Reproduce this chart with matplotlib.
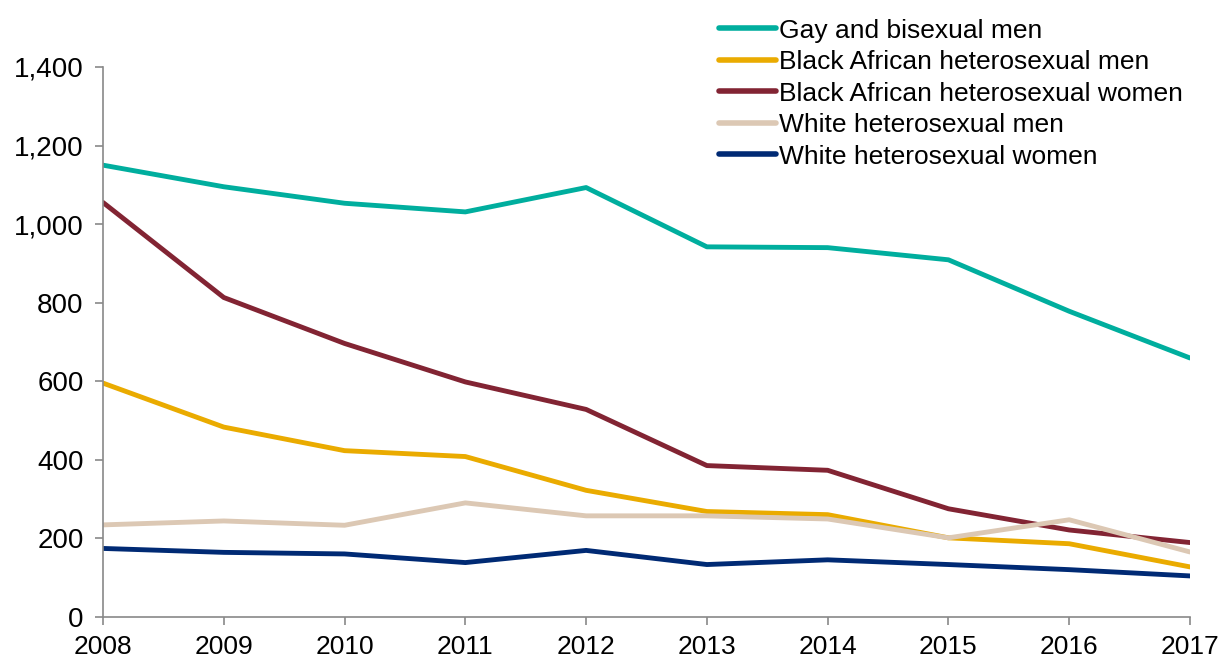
import matplotlib.pyplot as plt
from matplotlib.ticker import FuncFormatter

plt.rcParams['font.family'] = ['Liberation Sans', 'DejaVu Sans']

years = [2008, 2009, 2010, 2011, 2012, 2013, 2014, 2015, 2016, 2017]

gay_bi_men = [1150, 1095, 1053, 1031, 1093, 942, 940, 909, 778, 659]
black_af_men = [595, 483, 423, 408, 322, 268, 260, 201, 186, 127]
black_af_women = [1055, 813, 696, 598, 528, 385, 373, 275, 221, 189]
white_men = [234, 244, 233, 290, 257, 257, 249, 201, 247, 165]
white_women = [174, 164, 160, 138, 169, 133, 145, 133, 120, 104]

labels = ["Gay and bisexual men", "Black African heterosexual men",
          "Black African heterosexual women", "White heterosexual men",
          "White heterosexual women"]
colors = ["#00AE9E", "#EAAB00", "#822433", "#DCC8B4", "#002A74"]


def main():
    fig = plt.figure(figsize=(12.22, 6.6), dpi=100)
    ax = fig.add_axes([0.0843, 0.0655, 0.8895, 0.833])

    series = [gay_bi_men, black_af_men, black_af_women, white_men, white_women]
    for vals, lab, col in zip(series, labels, colors):
        ax.plot(years, vals, color=col, lw=3.5, label=lab, solid_capstyle="round")

    ax.set_xlim(2008, 2017)
    ax.set_ylim(0, 1400)
    ax.set_xticks(years)
    ax.set_yticks(range(0, 1401, 200))
    ax.yaxis.set_major_formatter(FuncFormatter(lambda v, p: "{:,.0f}".format(v)))

    for s in ["top", "right"]:
        ax.spines[s].set_visible(False)
    for s in ["left", "bottom"]:
        ax.spines[s].set_color("#898989")
        ax.spines[s].set_linewidth(1.2)
    ax.tick_params(axis="both", colors="#898989", labelcolor="black",
                   length=6, width=1.2, direction="out")
    ax.tick_params(axis="y", labelsize=20, pad=8)
    ax.tick_params(axis="x", labelsize=19, pad=7)

    leg = ax.legend(loc="upper left", bbox_to_anchor=(0.555, 1.112), frameon=False,
                    fontsize=19, handlelength=2.15, handletextpad=0.1,
                    labelspacing=0.285, borderpad=0)
    for h in leg.get_lines():
        h.set_linewidth(4)

    fig.savefig("out.png", dpi=100)


if __name__ == "__main__":
    main()
